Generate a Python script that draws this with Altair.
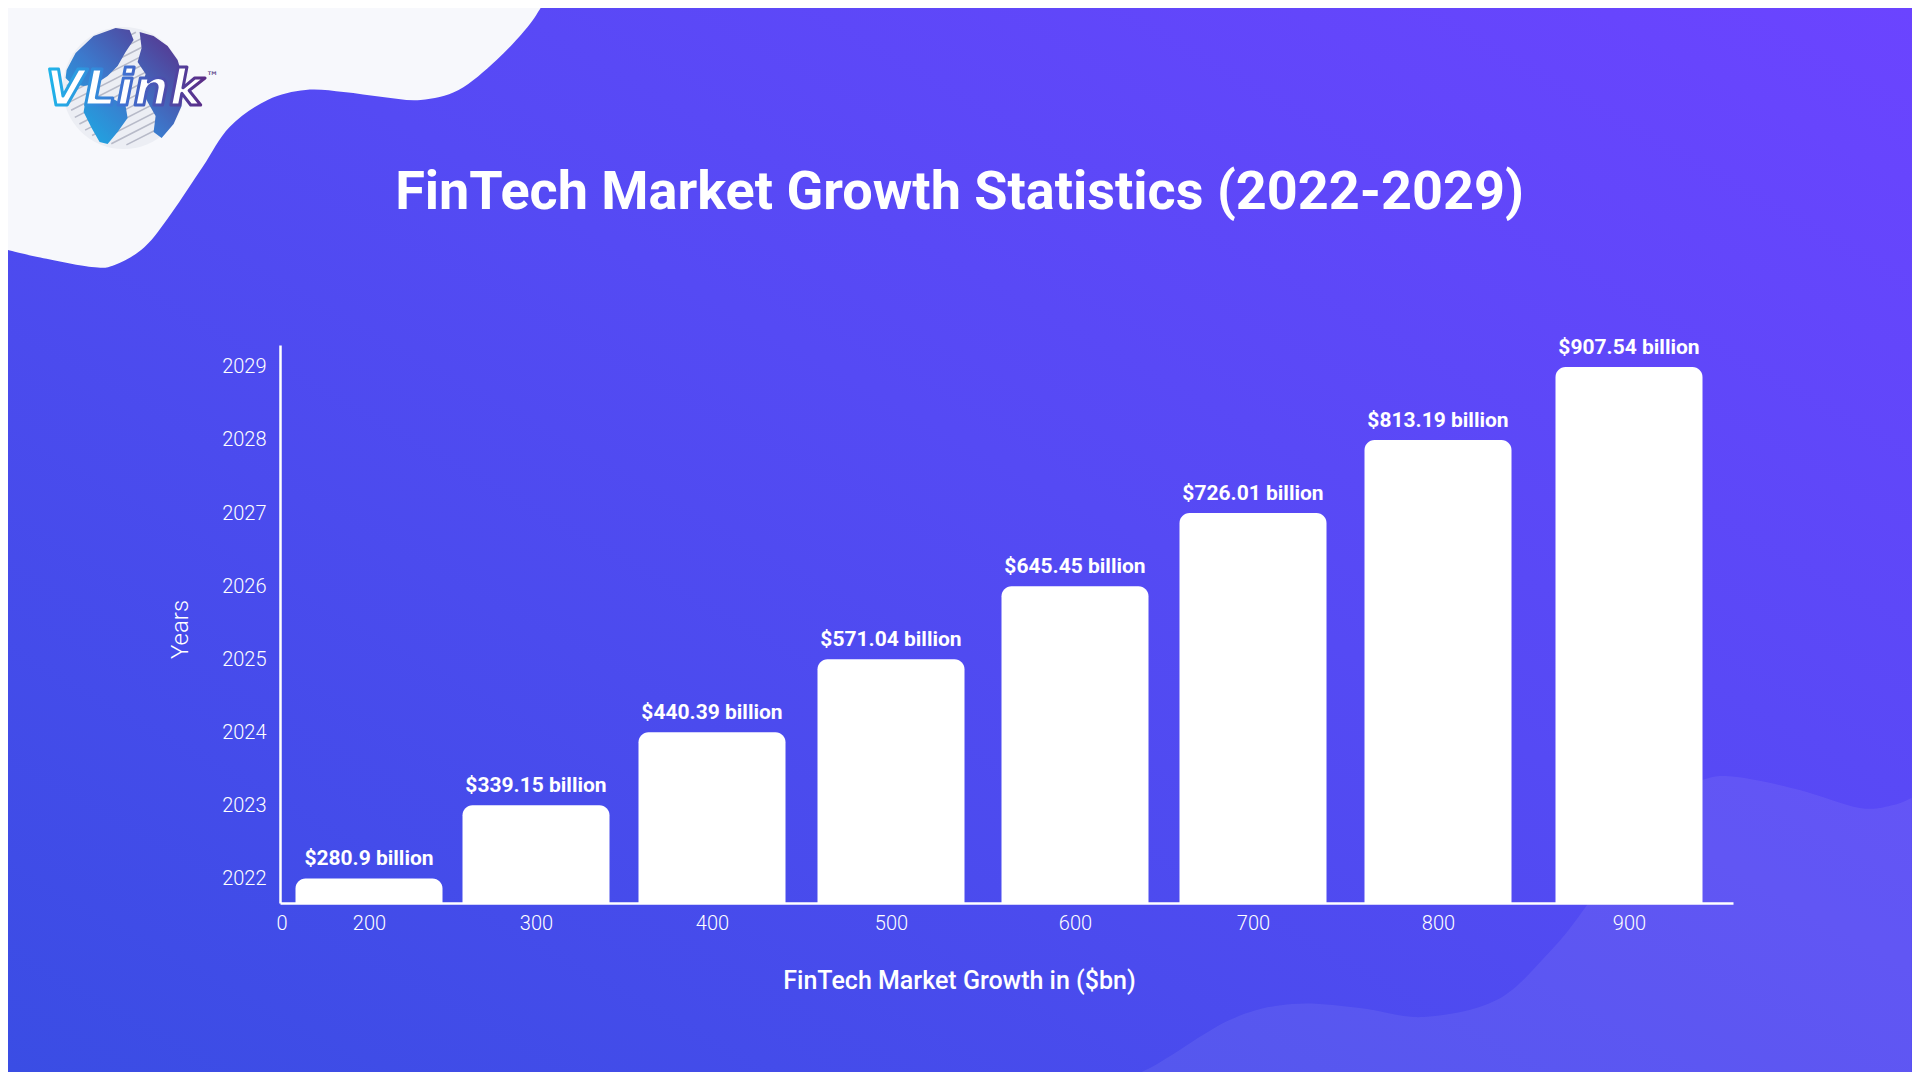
import math
import altair as alt
import pandas as pd

# ---------------- data ----------------
years = [2022, 2023, 2024, 2025, 2026, 2027, 2028, 2029]
market_bn = [280.9, 339.15, 440.39, 571.04, 645.45, 726.01, 813.19, 907.54]
x_ticks = [200, 300, 400, 500, 600, 700, 800, 900]
x_axis_values = [0] + x_ticks
title_text = "FinTech Market Growth Statistics (2022-2029)"
x_title = "FinTech Market Growth in ($bn)"
y_title = "Years"
logo_text = "VLink"

labels = [f"${v} billion" for v in market_bn]
df = pd.DataFrame({"pos": x_ticks, "year": years, "value": market_bn, "label": labels})

# ---------------- layout ----------------
W, H = 1453, 558
PAD = {"left": 272, "top": 337, "right": 179, "bottom": 169}
OX, OY = 280.4, 345.0  # page position of the plot origin
TOP = 8 - OY           # svg top edge in plot coordinates

x_scale = alt.Scale(
    domain=[0, 200, 300, 400, 500, 600, 700, 800, 900, 960],
    range=[0, 89, 256, 432, 611, 795, 973, 1158, 1349, W],
    nice=False, zero=False,
)
Y_MIN, Y_MAX = 2021.664, 2029.30
y_scale = alt.Scale(domain=[Y_MIN, Y_MAX], nice=False, zero=False)

FONT = "Roboto"

x_axis = alt.Axis(
    values=x_axis_values, format="d", title=x_title, grid=False, ticks=False,
    labelColor="white", labelFont=FONT, labelFontSize=20, labelFontWeight=300,
    labelPadding=10, labelFlush=False, labelOverlap=False,
    domainColor="white", domainWidth=2.5,
    titleColor="white", titleFont=FONT, titleFontSize=25, titleFontWeight=500,
    titleX=679, titleY=85, titleBaseline="alphabetic", titleAlign="center",
    zindex=1,
)
y_axis = alt.Axis(
    values=years, format="d", title=y_title, grid=False, ticks=False,
    labelColor="white", labelFont=FONT, labelFontSize=20, labelFontWeight=300,
    labelPadding=14, labelFlush=False, labelOverlap=False,
    domainColor="white", domainWidth=2.5,
    titleColor="white", titleFont=FONT, titleFontSize=24, titleFontWeight=300,
    titleAngle=270, titleX=-93, titleY=284, titleBaseline="alphabetic",
    titleAlign="center", zindex=1,
)

x_enc = alt.X("pos:Q", scale=x_scale, axis=x_axis)
y_enc = alt.Y("year:Q", scale=y_scale, axis=y_axis)


# ---------------- decorative helpers ----------------
def smooth_path(pts, tail):
    """Catmull-Rom curve through pts (page coords) -> SVG path in plot coords."""
    p = [(x - OX, y - OY) for x, y in pts]
    d = f"M{p[0][0]:.1f},{p[0][1]:.1f}"
    n = len(p)
    for i in range(n - 1):
        p0 = p[i - 1] if i > 0 else p[i]
        p1, p2 = p[i], p[i + 1]
        p3 = p[i + 2] if i + 2 < n else p2
        c1 = (p1[0] + (p2[0] - p0[0]) / 6, p1[1] + (p2[1] - p0[1]) / 6)
        c2 = (p2[0] - (p3[0] - p1[0]) / 6, p2[1] - (p3[1] - p1[1]) / 6)
        d += f" C{c1[0]:.1f},{c1[1]:.1f} {c2[0]:.1f},{c2[1]:.1f} {p2[0]:.1f},{p2[1]:.1f}"
    for x, y in tail:
        d += f" L{x - OX:.1f},{y - OY:.1f}"
    return d + " Z"


def poly(pts):
    return "M" + " L".join(f"{x},{y}" for x, y in pts) + " Z"


one = pd.DataFrame({"k": [0]})

bg_grad = alt.Gradient(
    gradient="linear", x1=0, y1=1, x2=1, y2=0,
    stops=[alt.GradientStop(color="#3a4de4", offset=0),
           alt.GradientStop(color="#554af4", offset=0.55),
           alt.GradientStop(color="#6b44ff", offset=1)],
)
background = alt.Chart(one).mark_rect(fill=bg_grad, strokeWidth=0).encode(
    x=alt.value(-PAD["left"]), x2=alt.value(W + PAD["right"]),
    y=alt.value(-PAD["top"]), y2=alt.value(H + PAD["bottom"]),
)

blob_pts = [(8, 250), (38, 257), (92, 267), (115, 265), (145, 247), (172, 213),
            (203, 167), (230, 127), (268, 100), (306, 90), (344, 92), (383, 97),
            (421, 100), (459, 90), (497, 60), (528, 27), (541, 8)]
blob = alt.Chart(one).mark_point(
    shape=smooth_path(blob_pts, [(8, 8)]), size=4, filled=True,
    color="#f7f8fc", opacity=1, strokeWidth=0,
).encode(x=alt.value(0), y=alt.value(0))

wave_pts = [(1100, 1072), (1142, 1072), (1230, 1020), (1293, 1004), (1360, 1008),
            (1424, 1017), (1497, 1000), (1549, 953), (1586, 907), (1622, 850),
            (1660, 805), (1703, 780), (1737, 777), (1800, 790), (1860, 808),
            (1894, 805), (1912, 798)]
wave = alt.Chart(one).mark_point(
    shape=smooth_path(wave_pts, [(1912, 1072)]), size=4, filled=True,
    color="white", opacity=0.07, strokeWidth=0,
).encode(x=alt.value(0), y=alt.value(0))

# logo
GX, GY, GR = 124 - OX, 88 - OY, 61
globe = alt.Chart(one).mark_point(
    shape="circle", size=(2 * GR) ** 2, filled=True, color="#eceef4",
    opacity=1, strokeWidth=0,
).encode(x=alt.value(GX), y=alt.value(GY))

a = math.radians(27)
ux, uy = math.cos(a), -math.sin(a)
nx, ny = math.sin(a), math.cos(a)
stripe_d = ""
R = GR - 4
for off in range(-52, 56, 8):
    h = math.sqrt(max(R * R - off * off, 0))
    x1, y1 = off * nx - h * ux, off * ny - h * uy
    x2, y2 = off * nx + h * ux, off * ny + h * uy
    stripe_d += f"M{x1:.1f},{y1:.1f} L{x2:.1f},{y2:.1f} "
stripes = alt.Chart(one).mark_point(
    shape=stripe_d.strip(), size=4, filled=False, stroke="#b7bac8",
    strokeWidth=1.6, opacity=1,
).encode(x=alt.value(GX), y=alt.value(GY))

na = [(-57, -18), (-48, -35), (-30, -52), (-8, -60), (6, -58), (10, -48), (2, -36),
      (-6, -22), (-16, -12), (-28, -4), (-40, -2), (-52, -4), (-58, -10)]
sa = [(-30, 8), (-12, 10), (2, 18), (4, 30), (-6, 44), (-16, 56), (-24, 54),
      (-32, 40), (-40, 24), (-38, 12)]
ea = [(16, -56), (30, -52), (44, -42), (54, -28), (60, -8), (58, 18), (50, 36),
      (38, 50), (30, 44), (32, 28), (24, 14), (18, 0), (22, -14), (14, -26), (18, -40)]
globe_grad = alt.Gradient(
    gradient="linear", x1=0, y1=1, x2=1, y2=0,
    stops=[alt.GradientStop(color="#16b4e9", offset=0),
           alt.GradientStop(color="#3c79cc", offset=0.45),
           alt.GradientStop(color="#5b2b85", offset=1)],
)
continents = alt.Chart(one).mark_point(
    shape=poly(na) + " " + poly(sa) + " " + poly(ea), size=4, filled=True,
    fill=globe_grad, opacity=1, strokeWidth=0,
).encode(x=alt.value(GX), y=alt.value(GY))

text_grad = alt.Gradient(
    gradient="linear", x1=0, y1=0, x2=1, y2=0,
    stops=[alt.GradientStop(color="#1fb7ea", offset=0),
           alt.GradientStop(color="#3f6fd0", offset=0.5),
           alt.GradientStop(color="#5b2b85", offset=1)],
)
logo_word = alt.Chart(one).mark_text(
    text=logo_text, font="DejaVu Sans", fontSize=50, fontWeight="bold",
    fontStyle="italic", align="center", baseline="alphabetic",
    fill="white", stroke=text_grad, strokeWidth=3, strokeJoin="round",
).encode(x=alt.value(124.5 - OX), y=alt.value(105 - OY))
logo_tm = alt.Chart(one).mark_text(
    text="™", font="DejaVu Sans", fontSize=13, align="center",
    baseline="middle", color="#4a2e7a",
).encode(x=alt.value(213 - OX), y=alt.value(77 - OY))

# ---------------- data marks ----------------
bars = alt.Chart(df).mark_bar(
    color="white", width=147, orient="vertical",
    cornerRadiusTopLeft=10, cornerRadiusTopRight=10,
).encode(x=x_enc, y=y_enc, y2=alt.datum(Y_MIN))

bar_labels = alt.Chart(df).mark_text(
    color="white", font=FONT, fontSize=21, fontWeight="bold",
    align="center", baseline="alphabetic", dy=-13,
).encode(x=x_enc, y=y_enc, text="label:N")

# title baseline wanted at page y ~211.5 (shift measured from an earlier render)
TITLE_BASELINE = 211.5 - OY
TITLE_DY = TITLE_BASELINE - TOP + 51
chart = alt.layer(
    background, blob, wave, globe, stripes, continents, logo_word, logo_tm,
    bars, bar_labels,
).properties(
    width=W, height=H,
    padding=PAD,
    autosize=alt.AutoSizeParams(type="none"),
    title=alt.TitleParams(
        text=title_text, font=FONT, fontSize=54, fontWeight="bold",
        color="white", anchor="middle", frame="group", dx=-47,
        offset=0, dy=TITLE_DY, baseline="alphabetic", zindex=1,
    ),
).configure(background="#4f4bee").configure_view(stroke="transparent")

chart.save("out.html", embed_options={"renderer": "svg", "actions": False})
